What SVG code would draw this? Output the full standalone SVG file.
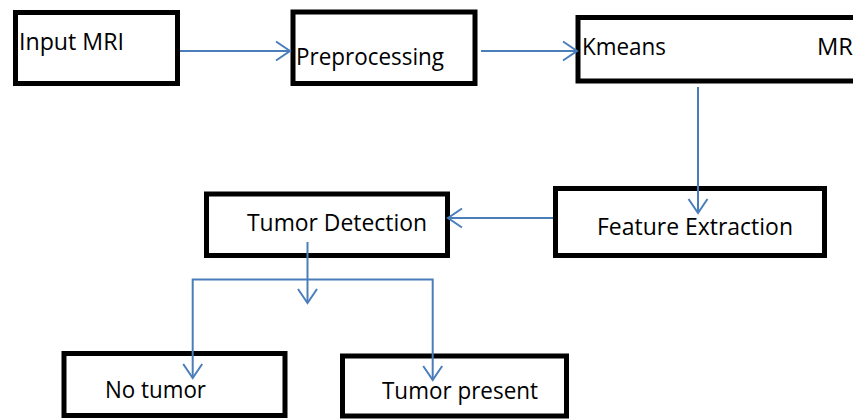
<svg xmlns="http://www.w3.org/2000/svg" width="853" height="419" viewBox="0 0 853 419">
<style>
.box{fill:#fff;stroke:#000;stroke-width:5}
.lbl{font-family:"Open Sans","Liberation Sans",Arial,sans-serif;font-size:23px;fill:#000}
.con{fill:none;stroke:#4a7ebb;stroke-width:2}
</style>
<defs>
<marker id="arr" markerUnits="userSpaceOnUse" markerWidth="20" markerHeight="24" viewBox="-16 -12 20 24" refX="0" refY="0" orient="auto-start-reverse">
<path d="M-14,-9.5 L0,0 L-14,9.5" fill="none" stroke="#4a7ebb" stroke-width="2"/>
</marker>
</defs>
<rect width="853" height="419" fill="#fff"/>
<g id="input-mri">
<rect class="box" x="15.5" y="12.5" width="162" height="71"/>
<text class="lbl" x="19" y="50" textLength="105" lengthAdjust="spacingAndGlyphs">Input MRI</text>
</g>
<g id="preprocessing">
<rect class="box" x="293" y="12" width="182" height="71.5"/>
<text class="lbl" x="296" y="65" textLength="148" lengthAdjust="spacingAndGlyphs">Preprocessing</text>
</g>
<g id="kmeans">
<rect class="box" x="578" y="17.5" width="300" height="63.5"/>
<text class="lbl" x="582" y="55" textLength="84" lengthAdjust="spacingAndGlyphs">Kmeans</text>
<text class="lbl" x="817" y="55" textLength="36" lengthAdjust="spacingAndGlyphs">MR</text>
</g>
<g id="feature-extraction">
<rect class="box" x="555.5" y="188.5" width="269" height="67"/>
<text class="lbl" x="597" y="235" textLength="196" lengthAdjust="spacingAndGlyphs">Feature Extraction</text>
</g>
<g id="tumor-detection">
<rect class="box" x="206.5" y="194" width="241" height="61.5"/>
<text class="lbl" x="247" y="231" textLength="180" lengthAdjust="spacingAndGlyphs">Tumor Detection</text>
</g>
<g id="no-tumor">
<rect class="box" x="64" y="353.5" width="221" height="62"/>
<text class="lbl" x="105" y="398" textLength="101" lengthAdjust="spacingAndGlyphs">No tumor</text>
</g>
<g id="tumor-present">
<rect class="box" x="342.5" y="356" width="224" height="60"/>
<text class="lbl" x="382" y="399" textLength="156" lengthAdjust="spacingAndGlyphs">Tumor present</text>
</g>
<g id="connectors">
<path class="con" d="M180,51 H290" marker-end="url(#arr)"/>
<path class="con" d="M481,51 H577" marker-end="url(#arr)"/>
<path class="con" d="M698,87 V213" marker-end="url(#arr)"/>
<path class="con" d="M553,218 H448" marker-end="url(#arr)"/>
<path class="con" d="M307.5,242 V303" marker-end="url(#arr)"/>
<path class="con" d="M192.7,378 V279.5 H432.7 V380" marker-start="url(#arr)" marker-end="url(#arr)"/>
</g>
</svg>
